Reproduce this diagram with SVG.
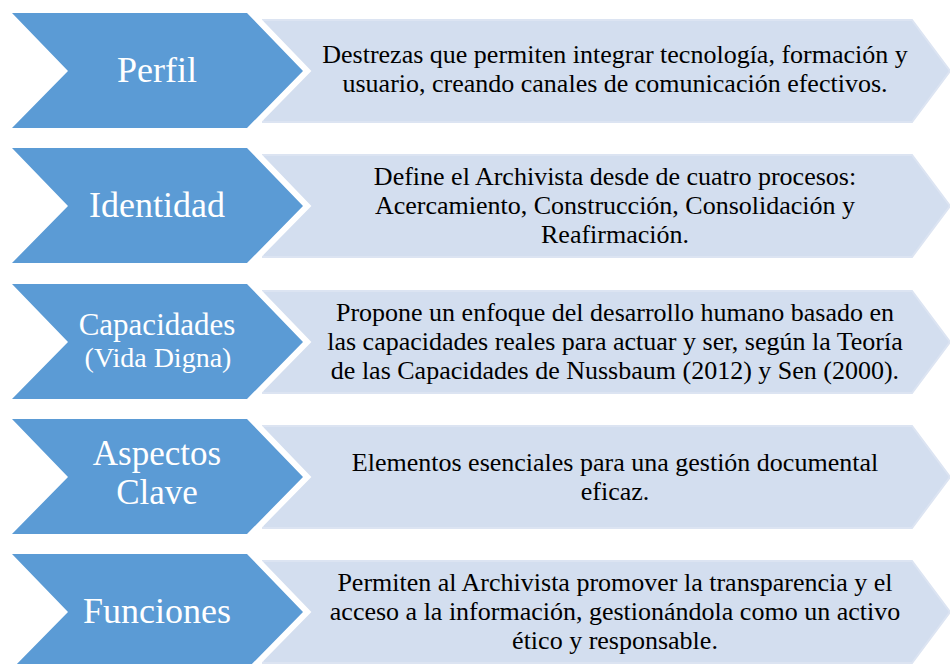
<svg xmlns="http://www.w3.org/2000/svg" xmlns:xlink="http://www.w3.org/1999/xlink" width="950" height="664" viewBox="0 0 950 664">
<style>
.light{fill:#d3deef;stroke:#dce4f2;stroke-width:2}
.halo{fill:#ffffff;stroke:#ffffff;stroke-width:12;stroke-linejoin:miter}
.dark{fill:#5b9bd5}
.lbl{fill:#ffffff;text-anchor:middle;font-size:36px}
.txt{fill:#000000;text-anchor:middle;font-size:26px}
</style>
<defs>
<polygon id="lightShape" class="light" points="263,20 912,20 950,71 912,122 263,122"/>
<polygon id="haloShape" class="halo" points="12,13 247,13 303,71 247,128 12,128 68,71"/>
<polygon id="darkShape" class="dark" points="12,13 247,13 303,71 247,128 12,128 68,71"/>
</defs>
<rect width="950" height="664" fill="#ffffff"/>
<g id="connectors"></g>
<g font-family="'Liberation Serif', Tinos, 'Times New Roman', 'DejaVu Serif', serif">
<g id="row-perfil">
<use xlink:href="#lightShape"/>
<use xlink:href="#haloShape"/>
<use xlink:href="#darkShape"/>
<text class="lbl" x="157" y="82">Perfil</text>
<text class="txt" x="615" y="63">Destrezas que permiten integrar tecnología, formación y</text>
<text class="txt" x="615" y="92">usuario, creando canales de comunicación efectivos.</text>
</g>
<g id="row-identidad" transform="translate(0,135)">
<use xlink:href="#lightShape"/>
<use xlink:href="#haloShape"/>
<use xlink:href="#darkShape"/>
<text class="lbl" x="157" y="82">Identidad</text>
<text class="txt" x="615" y="50">Define el Archivista desde de cuatro procesos:</text>
<text class="txt" x="615" y="79">Acercamiento, Construcción, Consolidación y</text>
<text class="txt" x="615" y="108">Reafirmación.</text>
</g>
<g id="row-capacidades" transform="translate(0,271)">
<use xlink:href="#lightShape"/>
<use xlink:href="#haloShape"/>
<use xlink:href="#darkShape"/>
<text class="lbl" x="157" y="64" style="font-size:31px">Capacidades</text>
<text class="lbl" x="158" y="96" style="font-size:28px">(Vida Digna)</text>
<text class="txt" x="615" y="50">Propone un enfoque del desarrollo humano basado en</text>
<text class="txt" x="615" y="79">las capacidades reales para actuar y ser, según la Teoría</text>
<text class="txt" x="615" y="108">de las Capacidades de Nussbaum (2012) y Sen (2000).</text>
</g>
<g id="row-aspectos" transform="translate(0,406)">
<use xlink:href="#lightShape"/>
<use xlink:href="#haloShape"/>
<use xlink:href="#darkShape"/>
<text class="lbl" x="157" y="59" style="font-size:35px">Aspectos</text>
<text class="lbl" x="157" y="98" style="font-size:35px">Clave</text>
<text class="txt" x="615" y="65">Elementos esenciales para una gestión documental</text>
<text class="txt" x="615" y="94">eficaz.</text>
</g>
<g id="row-funciones" transform="translate(0,541)">
<use xlink:href="#lightShape"/>
<use xlink:href="#haloShape"/>
<use xlink:href="#darkShape"/>
<text class="lbl" x="157" y="82">Funciones</text>
<text class="txt" x="615" y="50">Permiten al Archivista promover la transparencia y el</text>
<text class="txt" x="615" y="79">acceso a la información, gestionándola como un activo</text>
<text class="txt" x="615" y="108">ético y responsable.</text>
</g>
</g>
</svg>
